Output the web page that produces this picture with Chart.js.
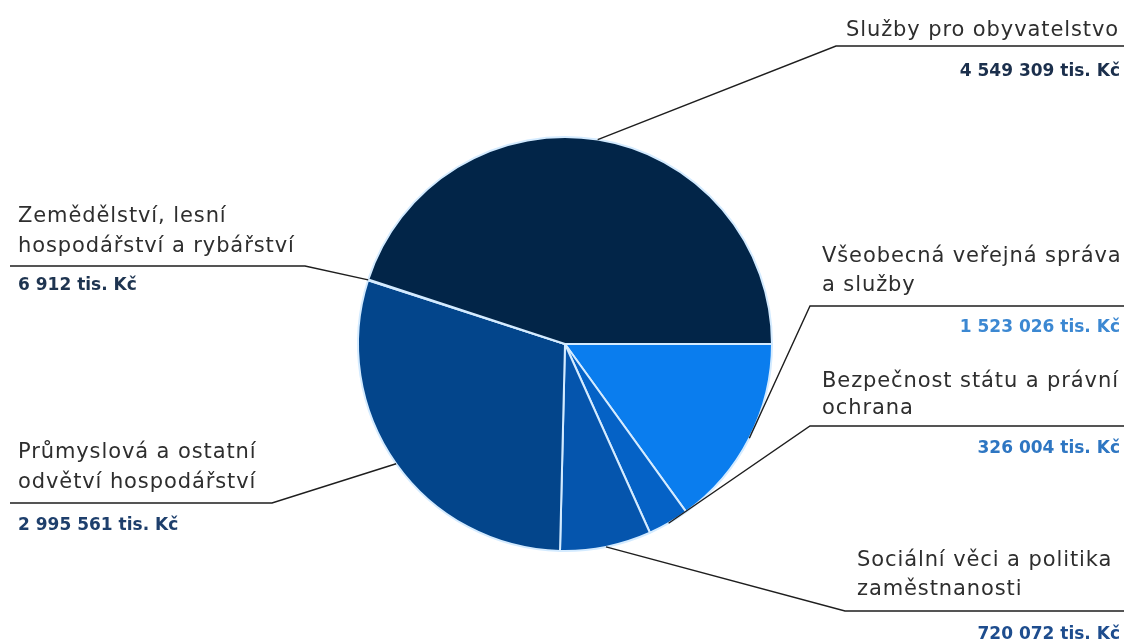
<!DOCTYPE html>
<html><head><meta charset="utf-8">
<script src="https://cdn.jsdelivr.net/npm/chart.js@4.4.1/dist/chart.umd.min.js"></script>
<style>html,body{margin:0;padding:0;background:#fff;}#wrap{width:1124px;height:644px;}</style>
</head><body><div id="wrap"><canvas id="c" width="1124" height="644"></canvas></div>
<script>
// Data (tis. Kč)
const categories = [
  ["Všeobecná veřejná správa", "a služby"],
  ["Bezpečnost státu a právní", "ochrana"],
  ["Sociální věci a politika", "zaměstnanosti"],
  ["Průmyslová a ostatní", "odvětví hospodářství"],
  ["Zemědělství, lesní", "hospodářství a rybářství"],
  ["Služby pro obyvatelstvo"]
];
const values = [1523026, 326004, 720072, 2995561, 6912, 4549309];
const valueLabels = ["1 523 026 tis. Kč", "326 004 tis. Kč", "720 072 tis. Kč", "2 995 561 tis. Kč", "6 912 tis. Kč", "4 549 309 tis. Kč"];

// Styling / layout
const sliceColors = ["#0a7dee", "#0562c6", "#0555ad", "#03458b", "#0a4f9a", "#022548"];
const valueColors = ["#3c88d2", "#2e76c2", "#1e4d8e", "#1e3f6c", "#1e3450", "#1b2f4c"];
const labelLayout = [
  {side:'R', lineY:306, lineX:810, textX:822, t:[262, 291], v:332},
  {side:'R', lineY:426, lineX:810, textX:822, t:[387, 414], v:453},
  {side:'R', lineY:611, lineX:845, textX:857, t:[566, 595], v:639},
  {side:'L', lineY:503, lineX:272, textX:18,  t:[458, 488], v:530},
  {side:'L', lineY:266, lineX:305, textX:18,  t:[222, 252], v:290},
  {side:'R', lineY:46,  lineX:836, textX:null, t:[36], v:76}
];

const labelsPlugin = {
  id: 'leaderLabels',
  afterDraw(chart) {
    const ctx = chart.ctx;
    const meta = chart.getDatasetMeta(0);
    ctx.save();
    meta.data.forEach((arc, i) => {
      const L = labelLayout[i];
      const p = arc.getProps(['x','y','startAngle','endAngle','outerRadius'], true);
      const mid = (p.startAngle + p.endAngle) / 2;
      const ex = p.x + Math.cos(mid) * p.outerRadius;
      const ey = p.y + Math.sin(mid) * p.outerRadius;
      ctx.strokeStyle = '#1e1e1e';
      ctx.lineWidth = 1.4;
      ctx.beginPath();
      ctx.moveTo(ex, ey);
      ctx.lineTo(L.lineX, L.lineY);
      ctx.lineTo(L.side === 'R' ? 1124 : 10, L.lineY);
      ctx.stroke();
      ctx.fillStyle = '#2e2e2e';
      ctx.font = '21px "DejaVu Sans"';
      ctx.letterSpacing = '0.9px';
      ctx.textBaseline = 'alphabetic';
      categories[i].forEach((s, k) => {
        if (L.textX === null) { ctx.textAlign = 'right'; ctx.fillText(s, 1119, L.t[k]); }
        else { ctx.textAlign = 'left'; ctx.fillText(s, L.textX, L.t[k]); }
      });
      ctx.letterSpacing = '0px';
      ctx.font = 'bold 17px "DejaVu Sans"';
      ctx.fillStyle = valueColors[i];
      if (L.side === 'R') { ctx.textAlign = 'right'; ctx.fillText(valueLabels[i], 1120, L.v); }
      else { ctx.textAlign = 'left'; ctx.fillText(valueLabels[i], 18, L.v); }
    });
    ctx.restore();
  }
};

new Chart(document.getElementById('c'), {
  type: 'pie',
  data: {
    labels: categories.map(c => c.join(' ')),
    datasets: [{
      data: values,
      backgroundColor: sliceColors,
      borderColor: '#d4ebff',
      borderWidth: 2
    }]
  },
  options: {
    responsive: false,
    animation: false,
    rotation: 90,
    layout: { padding: { top: 136, bottom: 92, left: 357, right: 351 } },
    plugins: { legend: { display: false }, tooltip: { enabled: false } }
  },
  plugins: [labelsPlugin]
});
</script>
</body></html>
